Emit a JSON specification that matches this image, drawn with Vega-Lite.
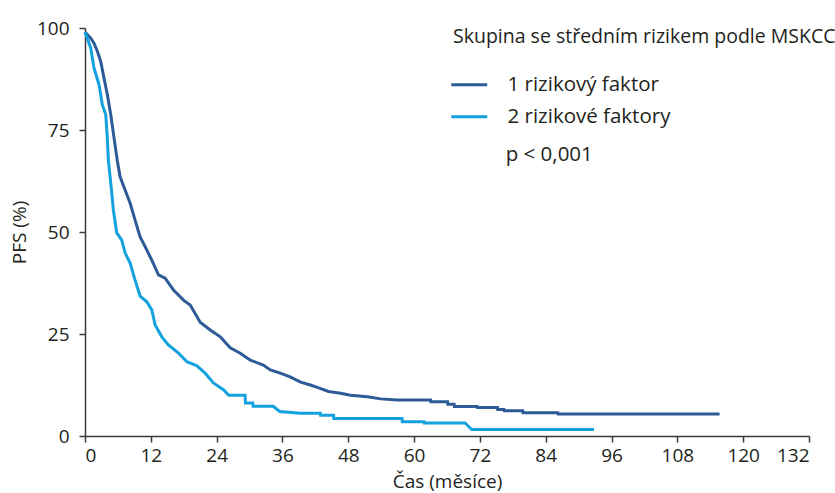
{
  "$schema": "https://vega.github.io/schema/vega-lite/v6.json",
  "width": 724,
  "height": 408,
  "autosize": {"type": "none"},
  "padding": {"left": 85, "top": 28, "right": 26, "bottom": 57},
  "background": "white",
  "config": {
    "view": {"stroke": null},
    "font": "Open Sans",
    "axis": {"labelFont": "Open Sans", "titleFont": "Open Sans", "labelColor": "#231f20", "titleColor": "#231f20", "domainColor": "#3a3a3a", "tickColor": "#3a3a3a", "domainWidth": 1.5, "tickWidth": 1.5, "grid": false, "labelFontSize": 19, "titleFontSize": 19, "titleFontWeight": "normal"},
    "legend": {"labelFont": "Open Sans", "titleFont": "Open Sans"}
  },
  "datasets": {
    "km": [
      {"t": 0, "s": 99, "g": "1 rizikový faktor"},
      {"t": 1.04, "s": 97.5, "g": "1 rizikový faktor"},
      {"t": 1.64, "s": 96.3, "g": "1 rizikový faktor"},
      {"t": 2.25, "s": 94.3, "g": "1 rizikový faktor"},
      {"t": 2.87, "s": 91.8, "g": "1 rizikový faktor"},
      {"t": 3.47, "s": 87.7, "g": "1 rizikový faktor"},
      {"t": 4.07, "s": 83.7, "g": "1 rizikový faktor"},
      {"t": 4.69, "s": 78.8, "g": "1 rizikový faktor"},
      {"t": 5.3, "s": 73.0, "g": "1 rizikový faktor"},
      {"t": 5.9, "s": 67.4, "g": "1 rizikový faktor"},
      {"t": 6.39, "s": 63.6, "g": "1 rizikový faktor"},
      {"t": 7.31, "s": 60.3, "g": "1 rizikový faktor"},
      {"t": 8.22, "s": 57.1, "g": "1 rizikový faktor"},
      {"t": 9.13, "s": 52.9, "g": "1 rizikový faktor"},
      {"t": 10.05, "s": 48.8, "g": "1 rizikový faktor"},
      {"t": 10.96, "s": 46.4, "g": "1 rizikový faktor"},
      {"t": 12.18, "s": 43.1, "g": "1 rizikový faktor"},
      {"t": 13.39, "s": 39.5, "g": "1 rizikový faktor"},
      {"t": 14.61, "s": 38.7, "g": "1 rizikový faktor"},
      {"t": 16.13, "s": 35.8, "g": "1 rizikový faktor"},
      {"t": 17.95, "s": 33.3, "g": "1 rizikový faktor"},
      {"t": 19.18, "s": 32.1, "g": "1 rizikový faktor"},
      {"t": 21.0, "s": 27.9, "g": "1 rizikový faktor"},
      {"t": 22.83, "s": 26.0, "g": "1 rizikový faktor"},
      {"t": 24.66, "s": 24.3, "g": "1 rizikový faktor"},
      {"t": 26.48, "s": 21.6, "g": "1 rizikový faktor"},
      {"t": 28.31, "s": 20.3, "g": "1 rizikový faktor"},
      {"t": 30.14, "s": 18.6, "g": "1 rizikový faktor"},
      {"t": 32.5, "s": 17.4, "g": "1 rizikový faktor"},
      {"t": 33.8, "s": 16.2, "g": "1 rizikový faktor"},
      {"t": 35.6, "s": 15.4, "g": "1 rizikový faktor"},
      {"t": 37.4, "s": 14.5, "g": "1 rizikový faktor"},
      {"t": 39.3, "s": 13.2, "g": "1 rizikový faktor"},
      {"t": 41.1, "s": 12.5, "g": "1 rizikový faktor"},
      {"t": 42.6, "s": 11.8, "g": "1 rizikový faktor"},
      {"t": 44.4, "s": 10.9, "g": "1 rizikový faktor"},
      {"t": 46.6, "s": 10.5, "g": "1 rizikový faktor"},
      {"t": 48.4, "s": 10.0, "g": "1 rizikový faktor"},
      {"t": 51.5, "s": 9.6, "g": "1 rizikový faktor"},
      {"t": 53.9, "s": 9.1, "g": "1 rizikový faktor"},
      {"t": 56.9, "s": 8.8, "g": "1 rizikový faktor"},
      {"t": 63.0, "s": 8.8, "g": "1 rizikový faktor"},
      {"t": 63.05, "s": 8.4, "g": "1 rizikový faktor"},
      {"t": 66.1, "s": 8.4, "g": "1 rizikový faktor"},
      {"t": 66.15, "s": 7.8, "g": "1 rizikový faktor"},
      {"t": 67.3, "s": 7.8, "g": "1 rizikový faktor"},
      {"t": 67.35, "s": 7.2, "g": "1 rizikový faktor"},
      {"t": 71.5, "s": 7.2, "g": "1 rizikový faktor"},
      {"t": 71.55, "s": 7.0, "g": "1 rizikový faktor"},
      {"t": 75.2, "s": 7.0, "g": "1 rizikový faktor"},
      {"t": 75.25, "s": 6.5, "g": "1 rizikový faktor"},
      {"t": 76.4, "s": 6.5, "g": "1 rizikový faktor"},
      {"t": 76.45, "s": 6.2, "g": "1 rizikový faktor"},
      {"t": 79.8, "s": 6.2, "g": "1 rizikový faktor"},
      {"t": 79.85, "s": 5.7, "g": "1 rizikový faktor"},
      {"t": 86.2, "s": 5.7, "g": "1 rizikový faktor"},
      {"t": 86.25, "s": 5.4, "g": "1 rizikový faktor"},
      {"t": 115.7, "s": 5.4, "g": "1 rizikový faktor"},
      {"t": 0, "s": 99, "g": "2 rizikové faktory"},
      {"t": 1.04, "s": 95.1, "g": "2 rizikové faktory"},
      {"t": 1.64, "s": 90.2, "g": "2 rizikové faktory"},
      {"t": 2.56, "s": 86.1, "g": "2 rizikové faktory"},
      {"t": 3.16, "s": 81.2, "g": "2 rizikové faktory"},
      {"t": 3.78, "s": 78.8, "g": "2 rizikové faktory"},
      {"t": 4.07, "s": 73.0, "g": "2 rizikové faktory"},
      {"t": 4.26, "s": 67.6, "g": "2 rizikové faktory"},
      {"t": 4.88, "s": 59.6, "g": "2 rizikové faktory"},
      {"t": 5.17, "s": 55.4, "g": "2 rizikové faktory"},
      {"t": 5.79, "s": 49.8, "g": "2 rizikové faktory"},
      {"t": 6.7, "s": 48.0, "g": "2 rizikové faktory"},
      {"t": 7.31, "s": 44.9, "g": "2 rizikové faktory"},
      {"t": 8.22, "s": 42.4, "g": "2 rizikové faktory"},
      {"t": 9.13, "s": 38.2, "g": "2 rizikové faktory"},
      {"t": 10.05, "s": 34.3, "g": "2 rizikové faktory"},
      {"t": 11.27, "s": 32.9, "g": "2 rizikové faktory"},
      {"t": 12.18, "s": 30.9, "g": "2 rizikové faktory"},
      {"t": 12.79, "s": 27.2, "g": "2 rizikové faktory"},
      {"t": 14.0, "s": 24.3, "g": "2 rizikové faktory"},
      {"t": 15.21, "s": 22.3, "g": "2 rizikové faktory"},
      {"t": 17.04, "s": 20.3, "g": "2 rizikové faktory"},
      {"t": 18.58, "s": 18.2, "g": "2 rizikové faktory"},
      {"t": 20.4, "s": 17.2, "g": "2 rizikové faktory"},
      {"t": 21.9, "s": 15.4, "g": "2 rizikové faktory"},
      {"t": 23.4, "s": 13.0, "g": "2 rizikové faktory"},
      {"t": 25.3, "s": 11.3, "g": "2 rizikové faktory"},
      {"t": 26.2, "s": 10.0, "g": "2 rizikové faktory"},
      {"t": 29.2, "s": 10.0, "g": "2 rizikové faktory"},
      {"t": 29.25, "s": 8.1, "g": "2 rizikové faktory"},
      {"t": 30.6, "s": 8.1, "g": "2 rizikové faktory"},
      {"t": 30.65, "s": 7.3, "g": "2 rizikové faktory"},
      {"t": 34.3, "s": 7.3, "g": "2 rizikové faktory"},
      {"t": 35.5, "s": 6.0, "g": "2 rizikové faktory"},
      {"t": 39.3, "s": 5.6, "g": "2 rizikové faktory"},
      {"t": 42.9, "s": 5.6, "g": "2 rizikové faktory"},
      {"t": 42.95, "s": 5.1, "g": "2 rizikové faktory"},
      {"t": 45.3, "s": 5.1, "g": "2 rizikové faktory"},
      {"t": 45.35, "s": 4.3, "g": "2 rizikové faktory"},
      {"t": 57.8, "s": 4.3, "g": "2 rizikové faktory"},
      {"t": 57.85, "s": 3.5, "g": "2 rizikové faktory"},
      {"t": 61.8, "s": 3.5, "g": "2 rizikové faktory"},
      {"t": 61.85, "s": 3.2, "g": "2 rizikové faktory"},
      {"t": 69.3, "s": 3.2, "g": "2 rizikové faktory"},
      {"t": 69.9, "s": 2.4, "g": "2 rizikové faktory"},
      {"t": 70.5, "s": 1.6, "g": "2 rizikové faktory"},
      {"t": 92.8, "s": 1.6, "g": "2 rizikové faktory"}
    ],
    "note": [
      {"t": 76.7, "s": 68.9, "label": "p < 0,001"}
    ]
  },
  "layer": [
    {
      "data": {"name": "km"},
      "mark": {"type": "line", "interpolate": "linear", "strokeWidth": 3, "strokeJoin": "miter"},
      "encoding": {
        "x": {"field": "t", "type": "quantitative", "scale": {"domain": [0, 132], "nice": false}, "axis": {"values": [0, 12, 24, 36, 48, 60, 72, 84, 96, 108, 120, 132], "title": "Čas (měsíce)", "tickSize": 6, "labelPadding": 4, "titlePadding": 7}},
        "y": {"field": "s", "type": "quantitative", "scale": {"domain": [0, 100], "nice": false}, "axis": {"values": [0, 25, 50, 75, 100], "title": "PFS (%)", "tickSize": 6, "labelPadding": 10, "titlePadding": 7}},
        "color": {"field": "g", "type": "nominal", "scale": {"domain": ["1 rizikový faktor", "2 rizikové faktory"], "range": ["#2c5b97", "#14a2de"]},
          "legend": {"title": "Skupina se středním rizikem podle MSKCC", "orient": "none", "legendX": 368, "legendY": 0, "titleLimit": 600, "labelLimit": 400, "titleFontSize": 19.5, "titleFontWeight": "normal", "titleColor": "#231f20", "titlePadding": 27, "labelFontSize": 20.5, "labelColor": "#231f20", "symbolType": "M-4,0H4", "symbolSize": 81, "symbolStrokeWidth": 3, "symbolOffset": 6, "labelOffset": 28, "rowPadding": 11, "titleAnchor": "start"}},
        "detail": {"field": "g"}
      }
    },
    {
      "data": {"name": "note"},
      "mark": {"type": "text", "align": "left", "baseline": "middle", "fontSize": 20.5, "color": "#231f20"},
      "encoding": {
        "x": {"field": "t", "type": "quantitative"},
        "y": {"field": "s", "type": "quantitative"},
        "text": {"field": "label"}
      }
    }
  ]
}
